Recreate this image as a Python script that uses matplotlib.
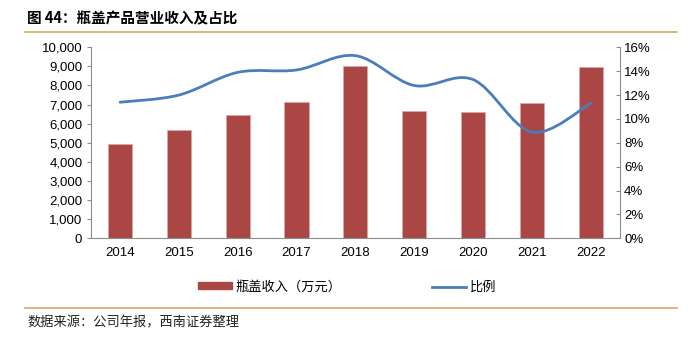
import numpy as np
import matplotlib.pyplot as plt
from matplotlib.path import Path
from matplotlib.patches import PathPatch, Patch
from matplotlib.lines import Line2D
from matplotlib.ticker import FuncFormatter

plt.rcParams['font.family'] = ['Liberation Sans', 'Noto Sans CJK SC', 'DejaVu Sans']

# 数据
years = ['2014', '2015', '2016', '2017', '2018', '2019', '2020', '2021', '2022']
revenue = [4950, 5670, 6470, 7120, 9020, 6680, 6610, 7070, 8950]   # 瓶盖收入（万元）
ratio = [11.4, 12.0, 13.9, 14.1, 15.3, 12.8, 13.3, 8.9, 11.3]      # 比例 %

bar_color = '#AA4643'
line_color = '#4A7EBB'
axis_color = '#8C8C8C'
rule_color = '#DDA85E'
cjk = ['Noto Sans CJK SC', 'DejaVu Sans']

fig = plt.figure(figsize=(6.94, 3.39), dpi=100)
ax = fig.add_axes([0.1307, 0.297, 0.7627, 0.5635])
x = np.arange(len(years))
ax.bar(x, revenue, width=0.41, color=bar_color, edgecolor='#D9A7A6', linewidth=0.6, zorder=2)
ax.set_xlim(-0.5, len(years) - 0.5)
ax.set_ylim(0, 10000)
ax.set_yticks(np.arange(0, 10001, 1000))
ax.yaxis.set_major_formatter(FuncFormatter(lambda v, p: f'{int(v):,}'))
ax.set_xticks(x)
ax.set_xticklabels(years)
ax.tick_params(axis='x', length=0, pad=6, labelsize=9.5)
ax.tick_params(axis='y', length=3, width=0.8, color=axis_color, labelsize=9.5, pad=3)
for s in ['left', 'bottom']:
    ax.spines[s].set_color(axis_color)
    ax.spines[s].set_linewidth(0.8)
ax.spines['top'].set_visible(False)
ax.spines['right'].set_visible(False)

# 比例 - 平滑曲线（Excel 式贝塞尔平滑）
ax2 = ax.twinx()
ax2.set_ylim(0, 16)
ax2.set_yticks(np.arange(0, 17, 2))
ax2.yaxis.set_major_formatter(FuncFormatter(lambda v, p: f'{int(v)}%'))
ax2.tick_params(axis='y', direction='in', length=3, width=0.8, color=axis_color, labelsize=9.5, pad=3)
for s in ['top', 'left', 'bottom']:
    ax2.spines[s].set_visible(False)
ax2.spines['right'].set_color(axis_color)
ax2.spines['right'].set_linewidth(0.8)

pts = np.column_stack([x, ratio]).astype(float)
verts = [pts[0]]
codes = [Path.MOVETO]
n = len(pts)
for i in range(n - 1):
    p0 = pts[max(i - 1, 0)]
    p1 = pts[i]
    p2 = pts[i + 1]
    p3 = pts[min(i + 2, n - 1)]
    c1 = p1 + (p2 - p0) / 6
    c2 = p2 - (p3 - p1) / 6
    verts += [c1, c2, p2]
    codes += [Path.CURVE4] * 3
ax2.add_patch(PathPatch(Path(verts, codes), fill=False, edgecolor=line_color,
                        linewidth=2.0, capstyle='round', zorder=3))

# 标题与分隔线
fig.text(0.039, 0.945, '图 44：瓶盖产品营业收入及占比', fontsize=10.5, fontweight='bold',
         family=cjk, va='center', ha='left')
fig.add_artist(Line2D([0.036, 0.976], [0.905, 0.905], color=rule_color, linewidth=1.2))
fig.add_artist(Line2D([0.036, 0.976], [0.092, 0.092], color=rule_color, linewidth=1.2))
fig.text(0.039, 0.048, '数据来源：公司年报，西南证券整理', fontsize=9.5, family=cjk,
         style='italic', va='center', ha='left', color='#222222')

handles = [Patch(facecolor=bar_color, edgecolor=bar_color),
           Line2D([], [], color=line_color, linewidth=2.0)]
fig.legend(handles, ['瓶盖收入（万元）', '比例'], loc='center', bbox_to_anchor=(0.5, 0.153),
           ncol=2, frameon=False, handlelength=2.6, handleheight=0.45, handletextpad=0.3,
           columnspacing=6.8, prop={'family': cjk, 'size': 9.5})

fig.savefig('out.png', dpi=100)
